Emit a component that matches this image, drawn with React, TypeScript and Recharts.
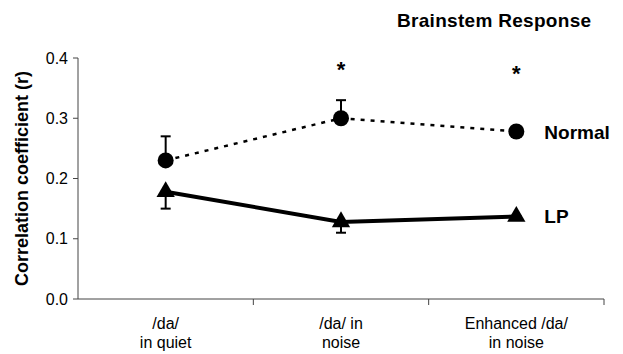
import React from 'react'
import {
  LineChart,
  Line,
  XAxis,
  YAxis,
  ErrorBar,
  LabelList,
  Symbols,
} from 'recharts'

// conditions on the x axis, split in two text lines
const labelTop = ['/da/', '/da/ in', 'Enhanced /da/']
const labelBottom = ['in quiet', 'noise', 'in noise']
const xPos = [0.5, 1.5, 2.5]

const normal = [0.23, 0.3, 0.278]
const normalErr = [0.04, 0.03, 0]
const lp = [0.178, 0.128, 0.137]
const lpErr = [0.028, 0.018, 0]
const starY = [null, 0.39, 0.384]

const yTicks = [0, 0.1, 0.2, 0.3, 0.4]
const xTicks = [0, 0.5, 1, 1.5, 2, 2.5, 3]

const data = xPos.map((x, i) => ({
  x,
  normal: normal[i],
  normalErr: [0, normalErr[i]],
  lp: lp[i],
  lpErr: [lpErr[i], 0],
  star: starY[i],
}))

const font = '"Liberation Sans", Arial, sans-serif'
const axisColor = '#444'

function XTick(props: any) {
  const { x, y, payload } = props
  const v = payload.value
  if (Number.isInteger(v)) {
    if (v === 0) return null
    return <line x1={x} y1={y} x2={x} y2={y + 6} stroke={axisColor} />
  }
  const i = Math.floor(v)
  return (
    <g>
      <text x={x} y={y + 30} textAnchor="middle" fontSize={16} fill="#000">
        {labelTop[i]}
      </text>
      <text x={x} y={y + 49} textAnchor="middle" fontSize={16} fill="#000">
        {labelBottom[i]}
      </text>
    </g>
  )
}

function Triangle(props: any) {
  const { cx, cy } = props
  if (cx == null || cy == null) return null
  return <Symbols cx={cx} cy={cy} type="triangle" size={145} fill="#000" />
}

function endLabel(name: string) {
  return (props: any) => {
    const { x, y, index } = props
    if (index !== 2) return null
    return (
      <text x={x + 28} y={y + 7} fontSize={19} fontWeight="bold" fill="#000">
        {name}
      </text>
    )
  }
}

function Star(props: any) {
  const { x, y, value } = props
  if (value == null) return null
  return (
    <text x={x} y={y + 13} textAnchor="middle" fontSize={22} fontWeight="bold" fill="#000">
      *
    </text>
  )
}

export default function App() {
  return (
    <div
      style={{
        position: 'absolute',
        left: 0,
        top: 0,
        width: 623,
        height: 354,
        background: '#fff',
        fontFamily: font,
      }}
    >
      <div
        style={{
          position: 'absolute',
          left: 397,
          top: 11,
          fontSize: 19,
          lineHeight: '19px',
          letterSpacing: 0.3,
          fontWeight: 'bold',
          color: '#000',
          whiteSpace: 'nowrap',
        }}
      >
        Brainstem Response
      </div>
      <LineChart
        width={623}
        height={354}
        data={data}
        margin={{ top: 58, right: 19, bottom: 0, left: 0 }}
        style={{ fontFamily: font }}
      >
        <XAxis
          dataKey="x"
          type="number"
          domain={[0, 3]}
          ticks={xTicks}
          interval={0}
          height={55}
          tickLine={false}
          tickSize={0}
          tickMargin={0}
          tick={<XTick />}
          stroke={axisColor}
        />
        <YAxis
          type="number"
          domain={[0, 0.4]}
          ticks={yTicks}
          width={78}
          tickSize={5}
          tickMargin={5}
          tickFormatter={(v: number) => v.toFixed(1)}
          tick={{ fontSize: 16, fill: '#000' }}
          stroke={axisColor}
          label={{
            content: ({ viewBox }: any) => {
              const cx = viewBox.x + 22
              const cy = viewBox.y + viewBox.height / 2
              return (
                <text
                  x={cx}
                  y={cy}
                  transform={`rotate(-90, ${cx}, ${cy})`}
                  textAnchor="middle"
                  dominantBaseline="central"
                  fontSize={18}
                  fontWeight="bold"
                  fill="#000"
                >
                  Correlation coefficient (r)
                </text>
              )
            },
          }}
        />
        <Line
          dataKey="normal"
          stroke="#000"
          strokeWidth={2.5}
          strokeDasharray="4 6"
          dot={{ r: 8, fill: '#000', stroke: '#000', strokeWidth: 0 }}
          isAnimationActive={false}
        >
          <ErrorBar dataKey="normalErr" direction="y" width={5} strokeWidth={2} stroke="#000" />
          <LabelList dataKey="normal" content={endLabel('Normal')} />
        </Line>
        <Line
          dataKey="lp"
          stroke="#000"
          strokeWidth={4}
          dot={<Triangle />}
          isAnimationActive={false}
        >
          <ErrorBar dataKey="lpErr" direction="y" width={5} strokeWidth={2} stroke="#000" />
          <LabelList dataKey="lp" content={endLabel('LP')} />
        </Line>
        <Line
          dataKey="star"
          stroke="none"
          dot={false}
          activeDot={false}
          isAnimationActive={false}
        >
          <LabelList dataKey="star" content={<Star />} />
        </Line>
      </LineChart>
    </div>
  )
}
